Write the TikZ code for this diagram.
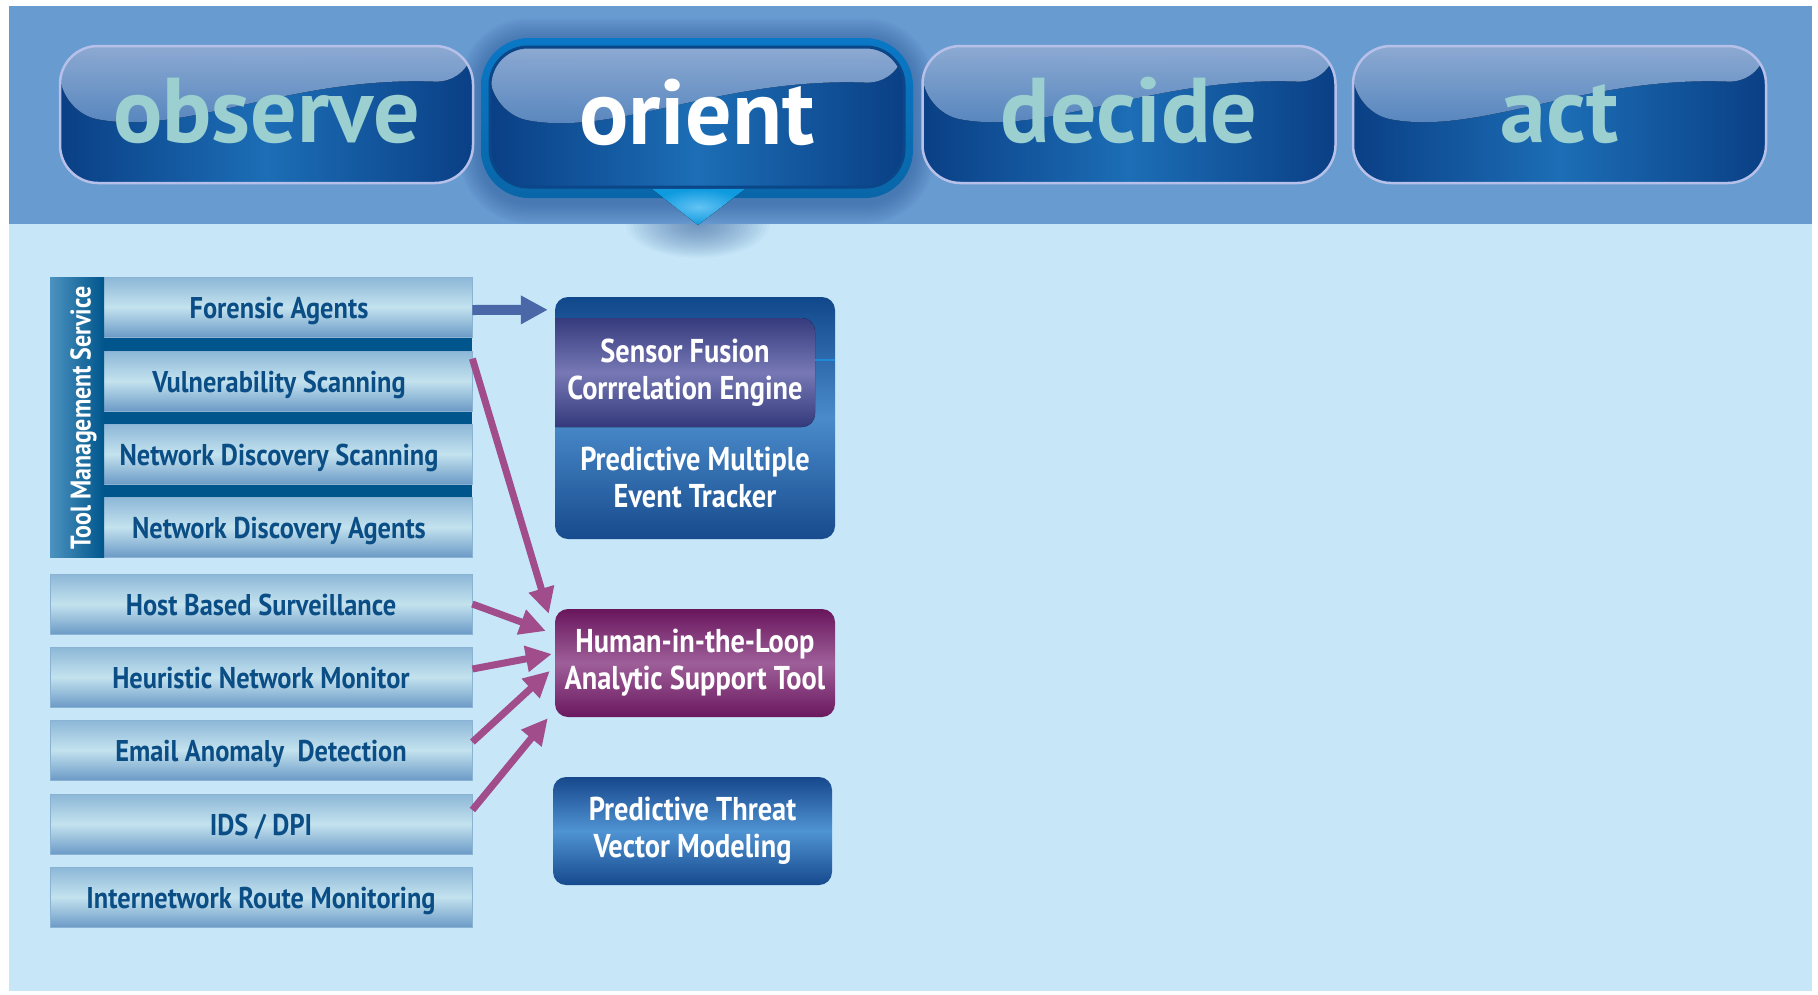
\documentclass[tikz,border=0pt]{standalone}
\usepackage{fontspec}
\usepackage{tikz}
\usetikzlibrary{arrows.meta,calc}

\newfontfamily\btnfont{PT Sans}
\newfontfamily\condfont[FakeStretch=0.86]{PT Sans}
\newfontfamily\rowfont[FakeStretch=0.88]{PT Sans}
\newfontfamily\tmsfont[FakeStretch=0.84]{PT Sans}

\definecolor{bandblue}{HTML}{689BD0}
\definecolor{lightbg}{HTML}{C7E7F9}
\definecolor{btndark}{HTML}{0A3F85}
\definecolor{btnmid}{HTML}{1C6EB6}
\definecolor{btnrim}{HTML}{B7C0E8}
\definecolor{glosstop}{HTML}{9CBCE8}
\definecolor{glossbot}{HTML}{3476C0}
\definecolor{btntext}{HTML}{9BCFD0}
\definecolor{ringblue}{HTML}{0A78C6}
\definecolor{ringnavy}{HTML}{0A4688}
\definecolor{trilight}{HTML}{63C3F4}
\definecolor{tridark}{HTML}{0F9ADF}
\definecolor{shadowblue}{HTML}{2A5696}
\definecolor{rowtop}{HTML}{8CB7D7}
\definecolor{rowmid}{HTML}{C3E2EE}
\definecolor{rowbot}{HTML}{6C9BC7}
\definecolor{rowedge}{HTML}{8AB2D2}
\definecolor{rowtext}{HTML}{0B4E86}
\definecolor{tmsblue}{HTML}{00568C}
\definecolor{tmslight}{HTML}{4C92C0}
\definecolor{arrowblue}{HTML}{4A67A8}
\definecolor{arrowmag}{HTML}{A24D8B}
\definecolor{mpettop}{HTML}{11478B}
\definecolor{mpetmid}{HTML}{4A8BCB}
\definecolor{mpetbot}{HTML}{174B8D}
\definecolor{sfcetop}{HTML}{353B7D}
\definecolor{sfcemid}{HTML}{7778B5}
\definecolor{sfcebot}{HTML}{33397B}
\definecolor{sfceline}{HTML}{1E8AD8}
\definecolor{hitltop}{HTML}{69165D}
\definecolor{hitlmid}{HTML}{9E5F99}
\definecolor{hitlbot}{HTML}{6A185E}
\definecolor{ptvmtop}{HTML}{17488C}
\definecolor{ptvmmid}{HTML}{4F93D3}
\definecolor{ptvmbot}{HTML}{164A8D}

\begin{document}
\begin{tikzpicture}[x=1pt,y=1pt,
  btn/.style={rounded corners=38pt, minimum width=413pt, minimum height=137pt, inner sep=0pt,
    draw=btnrim, line width=2.5pt, left color=btndark, right color=btndark, middle color=btnmid,
    text=btntext, font=\btnfont\bfseries\fontsize{92}{92}\selectfont, text height=55pt, text depth=0pt,
    path picture={\fill[top color=glosstop, bottom color=glossbot, fill opacity=0.9]
      (path picture bounding box.north west) -- ([yshift=-66pt]path picture bounding box.north west)
      .. controls ([xshift=125pt,yshift=-90pt]path picture bounding box.north west)
      and ([xshift=230pt,yshift=-30pt]path picture bounding box.north west)
      .. ([yshift=-37pt]path picture bounding box.north east)
      -- (path picture bounding box.north east) -- cycle;}},
  rowbox/.style={rectangle, minimum height=60pt, inner sep=0pt, draw=rowedge, line width=0.8pt,
    top color=rowtop, bottom color=rowbot, middle color=rowmid, text=rowtext,
    font=\rowfont\bfseries\fontsize{30}{30}\selectfont, text height=23pt, text depth=0pt},
  grouprow/.style={rowbox, minimum width=386pt},
  singlerow/.style={rowbox, minimum width=422pt},
  boxtext/.style={align=center, inner sep=0pt, text=white,
    font=\condfont\bfseries\fontsize{33}{37}\selectfont},
  bigbox/.style={boxtext, rounded corners=13pt, minimum width=280pt, minimum height=108pt},
  fwdarrow/.style={draw=arrowblue, line width=10pt, -{Triangle[length=27pt,width=27pt]}},
  hitlarrow/.style={draw=arrowmag, line width=7pt, -{Triangle[length=26pt,width=25pt]}}]
\useasboundingbox (0,0) rectangle (1818,-994);
\fill[white] (0,0) rectangle (1818,-994);
\fill[bandblue] (9,-6) rectangle (1812,-224);
\fill[lightbg] (9,-224) rectangle (1812,-991);

% phase buttons
\foreach \s [evaluate=\s as \r using 48+\s] in {2,4,...,22}
  \fill[shadowblue, opacity=0.05, rounded corners=\r pt] (481-\s,-40+\s) rectangle (913+\s,-202-\s);
\begin{scope}
\clip (9,-224) rectangle (1812,-300);
\foreach \s in {1,...,20}
  \fill[shadowblue, opacity=0.035] (698,-224) ellipse ({3.6*\s} and {1.7*\s});
\end{scope}
\node[btn] (observe) at (266.5,-114.5) {observe};
\node[rounded corners=48pt, minimum width=432pt, minimum height=160pt, inner sep=0pt,
  top color=ringblue, bottom color=ringblue!85!black] (orientring) at (697,-118) {};
\node[btn, minimum width=414pt, minimum height=140pt, draw=ringnavy, line width=3pt, text=white] (orient) at (697,-117) {orient};
\fill[inner color=trilight, outer color=tridark] (652,-189) -- (745,-189) -- (698,-225) -- cycle;
\node[btn] (decide) at (1129,-114.5) {decide};
\node[btn] (act) at (1559.5,-114.5) {act};

% sensor rows
\node[fill=tmsblue, minimum width=422pt, minimum height=280pt, inner sep=0pt] (tms) at (261,-417) {};
\node[grouprow] (forensic) at (279,-307) {Forensic Agents};
\node[grouprow] (vuln) at (279,-381) {Vulnerability Scanning};
\node[grouprow] (ndscan) at (279,-454) {Network Discovery Scanning};
\node[grouprow] (ndagent) at (279,-527) {Network Discovery Agents};
\node[left color=tmslight, right color=tmsblue, minimum width=54pt, minimum height=280pt, inner sep=0pt] (tmsband) at (77,-417) {};
\node[rotate=90, text=white, inner sep=0pt, text height=21pt, text depth=0pt,
  font=\tmsfont\bfseries\fontsize{28.5}{28.5}\selectfont] (tmslabel) at (80,-418) {Tool Management Service};
\node[singlerow] (host) at (261,-604) {Host Based Surveillance};
\node[singlerow] (heur) at (261,-677) {Heuristic Network Monitor};
\node[singlerow] (email) at (261,-750) {Email Anomaly\ \ Detection};
\node[singlerow] (ids) at (261,-824) {IDS / DPI};
\node[singlerow] (route) at (261,-897) {Internetwork Route Monitoring};

% orient boxes
\node[rounded corners=13pt, minimum width=280pt, minimum height=242pt, inner sep=0pt,
  top color=mpettop, bottom color=mpetbot, middle color=mpetmid] (mpet) at (695,-418) {};
\fill[top color=sfcetop, bottom color=sfcebot, middle color=sfcemid]
  (555,-318) -- (802,-318) arc[start angle=90,end angle=0,radius=13] -- (815,-414)
  arc[start angle=0,end angle=-90,radius=13] -- (555,-427) -- cycle;
\node[boxtext, minimum width=260pt, minimum height=109pt] (sfce) at (685,-372.5) {Sensor Fusion\\Corrrelation Engine};
\coordinate (sfcetap) at (815,-360);
\draw[sfceline, line width=2pt] (sfcetap) -- (sfcetap -| mpet.east);
\node[boxtext] (pmet) at (695,-477.5) {Predictive Multiple\\Event Tracker};
\node[bigbox, top color=hitltop, bottom color=hitlbot, middle color=hitlmid] (hitl) at (695,-663) {Human-in-the-Loop\\Analytic Support Tool};
\node[bigbox, minimum width=279pt, top color=ptvmtop, bottom color=ptvmbot, middle color=ptvmmid] (ptvm) at (692.5,-831) {Predictive Threat\\Vector Modeling};

% feeds
\draw[fwdarrow] ([yshift=-3pt]forensic.east) -- ([xshift=-7pt,yshift=-13pt]mpet.north west);
\draw[hitlarrow] ([yshift=-8pt]vuln.north east) -- ([xshift=-6pt,yshift=-5pt]hitl.north west);
\draw[hitlarrow] (host.east) -- ([xshift=-9pt,yshift=32pt]hitl.west);
\draw[hitlarrow] ([yshift=8pt]heur.east) -- ([xshift=-3pt,yshift=9pt]hitl.west);
\draw[hitlarrow] ([yshift=8pt]email.east) -- ([xshift=-5pt,yshift=-8pt]hitl.west);
\draw[hitlarrow] ([yshift=14pt]ids.east) -- ([xshift=-7pt,yshift=-1pt]hitl.south west);
\end{tikzpicture}
\end{document}
